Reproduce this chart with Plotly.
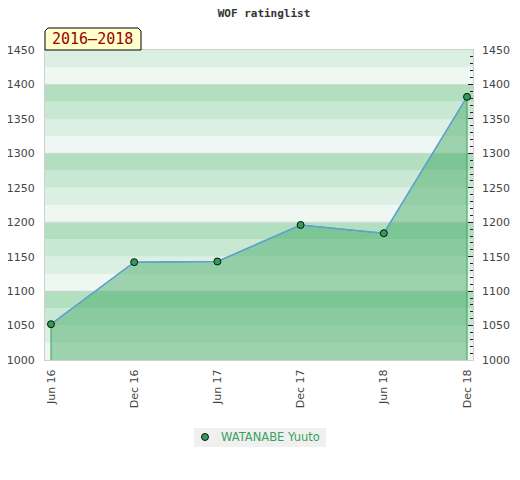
import plotly.graph_objects as go

# data
periods = ["Jun 16", "Dec 16", "Jun 17", "Dec 17", "Jun 18", "Dec 18"]
ratings = [1052, 1142, 1143, 1196, 1184, 1382]
player = "WATANABE Yuuto"
span_label = "2016\u20132018"
y_min, y_max = 1000, 1450

# band colours, bottom to top inside each hundred
band_colors = ["#eef7f1", "#dcefe3", "#c9e8d3", "#b3dfc1"]
font_main = "DejaVu Sans"
font_mono = "DejaVu Sans Mono"
marker_green = "#2e9e55"

fig = go.Figure()

# filled area: polygon closed down to the axis minimum
fig.add_trace(go.Scatter(
    x=[periods[0]] + periods + [periods[-1]],
    y=[y_min] + ratings + [y_min],
    mode="lines",
    fill="toself",
    fillcolor="rgba(54,164,91,0.44)",
    line=dict(color="#3a9e5c", width=1),
    hoverinfo="skip",
    showlegend=False,
))

# rating line and markers
fig.add_trace(go.Scatter(
    x=periods, y=ratings,
    mode="lines+markers",
    line=dict(color="#5fa0d8", width=1.5),
    marker=dict(color=marker_green, size=7, line=dict(color="#111", width=1)),
    showlegend=False,
))

# invisible trace so the right axis gets drawn
fig.add_trace(go.Scatter(x=[None], y=[None], yaxis="y2", showlegend=False,
                         hoverinfo="skip"))

# horizontal background bands every 25 points
shapes = []
v = y_min
i = 0
while v < y_max:
    shapes.append(dict(type="rect", xref="paper", yref="y", x0=0, x1=1,
                       y0=v, y1=v + 25, fillcolor=band_colors[i % 4],
                       line=dict(width=0), layer="below"))
    v += 25
    i += 1
for h in range(y_min + 100, y_max, 100):
    shapes.append(dict(type="line", xref="paper", yref="y", x0=0, x1=1,
                       y0=h, y1=h, line=dict(color="#d6d6d6", width=1),
                       layer="below"))

# label tab above the plot (top corners clipped)
shapes.append(dict(
    type="path", xref="paper", yref="paper",
    path="M 0 1 L 0 1.0613 L 0.007 1.071 L 0.2173 1.071 L 0.2243 1.0613 L 0.2243 1 Z",
    fillcolor="#ffffcc", line=dict(color="#000", width=1), layer="above",
))

# legend box drawn by hand (grey box, marker, name)
shapes.append(dict(type="rect", xref="paper", yref="paper",
                   x0=0.3481, x1=0.6565, y0=-0.2806, y1=-0.2194,
                   fillcolor="#f0f0f0", line=dict(width=0)))
shapes.append(dict(type="circle", xref="paper", yref="paper",
                   x0=0.3657, x1=0.382, y0=-0.2597, y1=-0.2371,
                   fillcolor=marker_green, line=dict(color="#111", width=1)))

# page body has an 8px margin, so the figure is 8px smaller and shifted back
fig.update_layout(
    width=512, height=472,
    margin=dict(l=37, r=47, t=42, b=120, autoexpand=False),
    paper_bgcolor="white", plot_bgcolor="white",
    title=dict(text="<b>WOF ratinglist</b>", x=0.5, xanchor="center",
               y=0.989, yanchor="middle", yref="container",
               font=dict(family=font_mono, size=11, color="#333")),
    shapes=shapes,
    annotations=[
        dict(text=span_label, xref="paper", yref="paper",
             x=0.1121, y=1.0339, showarrow=False,
             xanchor="center", yanchor="middle",
             font=dict(family=font_mono, size=15, color="#990000")),
        dict(text=player, xref="paper", yref="paper",
             x=0.4065, y=-0.2484, showarrow=False,
             xanchor="left", yanchor="middle",
             font=dict(family=font_main, size=11.5, color="#3ca060")),
    ],
    showlegend=False,
    xaxis=dict(type="category", range=[-0.072, 5.072], showgrid=False,
               showline=True, linecolor="#d0d0d0", mirror=True,
               tickangle=-90, ticks="", ticklabelstandoff=4,
               tickfont=dict(family=font_main, size=11, color="#444"),
               zeroline=False),
    yaxis=dict(range=[y_min, y_max], dtick=50, showgrid=False,
               showline=True, linecolor="#d0d0d0", mirror=True,
               ticks="", ticklabelstandoff=7, zeroline=False,
               tickfont=dict(family=font_main, size=11, color="#444")),
    yaxis2=dict(range=[y_min, y_max], dtick=50, overlaying="y", side="right",
                showgrid=False, zeroline=False, showline=False,
                ticks="inside", ticklen=5, tickcolor="#222",
                minor=dict(dtick=10, ticks="inside", ticklen=3, tickcolor="#222"),
                ticklabelstandoff=8,
                tickfont=dict(family=font_main, size=11, color="#444")),
)

fig.write_html("out.html")
